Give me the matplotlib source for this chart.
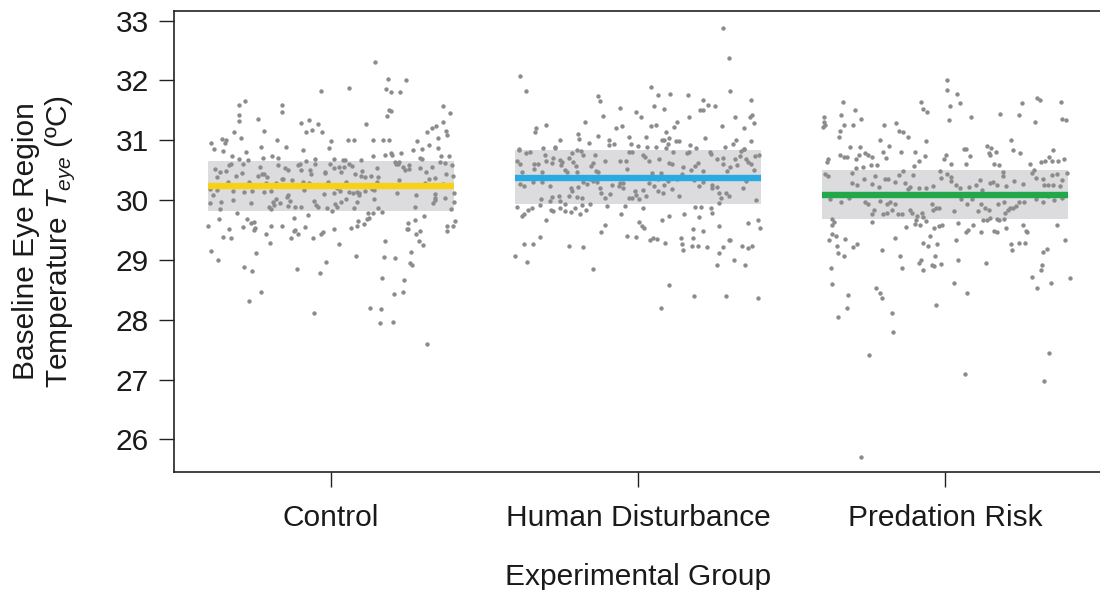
import numpy as np
import matplotlib
matplotlib.use("Agg")
import matplotlib.pyplot as plt

plt.rcParams['font.family'] = ['Liberation Sans', 'DejaVu Sans']
plt.rcParams['mathtext.fontset'] = 'custom'
plt.rcParams['mathtext.rm'] = 'Liberation Sans'
plt.rcParams['mathtext.it'] = 'Liberation Sans:italic'

groups = ["Control", "Human Disturbance", "Predation Risk"]
group_means = [30.24, 30.37, 30.09]
ci_low = [29.82, 29.93, 29.68]
ci_high = [30.66, 30.83, 30.50]
line_colors = ["#F7D117", "#29ABE2", "#22A84B"]
y_ticks = [26, 27, 28, 29, 30, 31, 32, 33]

# (jitter offset, temperature) pairs
control_points = [
    (0.143,32.31),(0.186,32.02),(0.244,32.01),(0.06,31.88),(-0.03,31.82),(0.18,31.85),(0.196,31.80),
    (0.225,31.81),(-0.28,31.66),(-0.30,31.59),(-0.16,31.59),(-0.16,31.48),(-0.30,31.43),(-0.30,31.32),
    (-0.236,31.36),(0.19,31.51),(0.197,31.49),(0.183,31.40),(0.367,31.58),(0.388,31.45),(0.365,31.30),
    (0.344,31.23),(0.114,31.27),(-0.098,31.28),(-0.07,31.34),(-0.04,31.27),(-0.08,31.13),(-0.06,31.17),
    (-0.028,31.13),(-0.216,31.16),(-0.314,31.13),(-0.293,31.04),(-0.355,31.02),(-0.34,31.00),(-0.343,30.96),
    (-0.39,30.95),(-0.38,30.85),(-0.35,30.82),(-0.176,31.00),(-0.226,30.89),(-0.147,30.89),(0.00,30.98),
    (-0.005,30.87),(0.057,31.01),(0.075,31.01),(0.138,31.01),(0.17,31.01),(0.189,31.01),(0.314,31.13),
    (0.33,31.20),(0.35,31.03),(0.376,31.15),(0.38,31.09),(0.28,30.99),(0.32,30.92),(0.297,30.86),
    (0.268,30.83),(0.35,30.87),(-0.09,30.83),(-0.32,30.74),(-0.30,30.69),(-0.275,30.80),(-0.27,30.67),
    (-0.287,30.60),(-0.22,30.70),(-0.19,30.74),(-0.17,30.71),(-0.08,30.66),(-0.05,30.68),(0.01,30.69),
    (0.04,30.67),(0.046,30.67),(0.10,30.67),(0.136,30.73),(0.176,30.76),(0.195,30.78),(0.20,30.75),
    (0.23,30.78),(0.29,30.70),(0.297,30.69),(0.36,30.74),(0.386,30.74),(0.21,30.63),(0.22,30.60),
    (-0.377,30.52),(-0.361,30.47),(-0.341,30.49),(-0.331,30.59),(-0.325,30.61),(-0.290,30.45),(-0.308,30.40),
    (-0.371,30.39),(-0.231,30.55),(-0.236,30.41),(-0.224,30.43),(-0.216,30.44),(-0.206,30.38),(-0.171,30.58),
    (-0.149,30.53),(-0.138,30.51),(-0.154,30.36),(-0.096,30.51),(-0.107,30.58),(-0.100,30.60),(-0.069,30.50),
    (-0.052,30.61),(-0.064,30.43),(-0.019,30.47),(-0.017,30.45),(-0.002,30.60),(0.012,30.53),(0.027,30.56),
    (0.034,30.47),(0.044,30.56),(0.059,30.61),(0.070,30.57),(0.078,30.43),(0.102,30.49),(0.098,30.40),
    (0.110,30.38),(0.131,30.40),(0.150,30.53),(0.154,30.39),(0.221,30.63),(0.213,30.60),(0.234,30.545),
    (0.243,30.51),(0.255,30.59),(0.289,30.53),(0.309,30.47),(0.330,30.56),(0.357,30.64),(0.372,30.62),
    (0.395,30.58),(0.374,30.43),(0.399,30.40),(0.340,30.37),(0.321,30.35),(0.254,30.52),
    (-0.392,30.18),(-0.384,30.08),(-0.371,30.16),(-0.333,30.31),(-0.318,30.15),(-0.281,30.14),(-0.256,30.15),
    (-0.267,30.31),(-0.209,30.29),(-0.218,30.14),(-0.193,30.15),(-0.179,30.28),(-0.158,30.35),(-0.140,30.09),
    (-0.126,30.33),(-0.089,30.30),(-0.088,30.16),(-0.072,30.29),(-0.040,30.24),(-0.021,30.10),(-0.009,30.30),
    (0.022,30.20),(0.011,30.11),(0.031,30.15),(0.051,30.31),(0.061,30.14),(0.071,30.12),(0.093,30.12),
    (0.086,30.14),(0.113,30.15),(0.133,30.18),(0.141,30.16),(0.152,30.30),(0.222,30.34),(0.216,30.11),
    (0.277,30.08),(0.308,30.29),(0.338,30.10),(0.364,30.27),(0.373,30.03),(0.401,30.11),(0.401,29.96),
    (0.340,30.03),
    (-0.394,29.95),(-0.357,29.96),(-0.359,29.85),(-0.317,30.00),(-0.259,29.95),(-0.201,29.89),(-0.194,29.85),
    (-0.184,29.92),(-0.179,30.01),(-0.165,29.95),(-0.138,29.90),(-0.132,29.98),(-0.116,29.88),(-0.096,29.88),
    (-0.056,29.99),(-0.047,29.91),(-0.040,29.89),(-0.012,29.86),(0.005,29.82),(0.013,29.94),(0.020,29.89),
    (0.035,29.97),(0.049,30.01),(0.077,29.87),(0.084,29.97),(0.091,30.08),(0.141,30.02),(0.154,29.87),
    (0.167,29.80),(0.273,29.89),(0.333,29.95),(0.338,30.00),(0.390,29.85),(-0.141,30.05),(-0.187,29.97),
    (-0.400,29.56),(-0.365,29.69),(-0.306,29.78),(-0.285,29.55),(-0.273,29.68),(-0.261,29.61),(-0.251,29.64),
    (-0.246,29.54),(-0.193,29.57),(-0.157,29.57),(-0.119,29.70),(-0.085,29.55),(-0.075,29.75),(0.067,29.54),
    (0.084,29.56),(0.090,29.65),(0.108,29.60),(0.117,29.68),(0.124,29.70),(0.122,29.79),(0.136,29.79),
    (0.251,29.52),(0.252,29.61),(0.273,29.66),(0.303,29.73),(0.379,29.56),(0.397,29.56),(0.405,29.65),
    (-0.330,29.51),(-0.250,29.50),(-0.209,29.44),(-0.121,29.48),(-0.115,29.50),(-0.107,29.43),(-0.352,29.39),
    (-0.326,29.36),(-0.198,29.29),(-0.130,29.36),(-0.059,29.36),(-0.033,29.44),(-0.024,29.46),(0.011,29.51),
    (0.028,29.27),(0.178,29.32),(0.247,29.51),(0.289,29.48),(0.276,29.43),(0.286,29.32),(0.301,29.25),
    (0.380,29.49),(-0.389,29.15),(-0.367,29.00),(-0.243,29.12),(-0.283,28.88),(-0.257,28.82),(-0.228,28.47),
    (-0.267,28.31),(-0.109,28.84),(-0.035,28.78),(-0.015,28.97),(0.083,29.07),(0.172,29.05),(0.210,29.03),
    (0.262,29.13),(0.257,28.94),(0.265,28.91),(0.167,28.70),(0.239,28.66),(0.235,28.47),(0.207,28.43),
    (0.127,28.20),(0.163,28.18),(0.159,27.95),(0.204,27.97),(-0.054,28.11),(0.312,27.60),
]

human_points = [
    (0.277,32.88),(0.295,32.37),(-0.383,32.08),(-0.363,31.83),(0.301,31.82),(0.043,31.89),(0.066,31.76),
    (0.105,31.78),(0.164,31.75),(-0.131,31.74),(-0.124,31.65),(0.052,31.58),(0.085,31.53),(0.213,31.67),
    (0.229,31.59),(0.252,31.57),(0.202,31.51),(0.210,31.51),(0.367,31.68),(-0.060,31.54),(-0.008,31.48),
    (0.009,31.39),(-0.113,31.40),(-0.174,31.30),(0.167,31.38),(0.317,31.38),(0.365,31.39),(0.372,31.43),
    (0.379,31.28),(-0.331,31.21),(-0.336,31.14),(-0.301,31.26),(-0.073,31.20),(-0.051,31.24),(0.041,31.23),
    (0.057,31.25),(0.126,31.30),(0.116,31.22),(0.091,31.13),(0.272,31.23),(0.346,31.20),(-0.195,31.11),
    (-0.193,31.02),(-0.253,31.01),(-0.160,30.96),(-0.129,31.07),(-0.094,31.01),(-0.096,30.92),(-0.079,30.93),
    (-0.030,31.06),(-0.024,30.94),(0.001,30.91),(0.026,31.05),(0.030,30.89),(0.078,31.01),(0.084,31.01),
    (0.102,31.03),(0.098,30.94),(0.125,30.99),(0.132,30.99),(0.169,30.92),(0.218,31.03),(0.320,31.01),
    (0.310,30.93),(0.369,30.99),(-0.308,30.87),(-0.270,30.89),(-0.388,30.85),(0.282,30.89),(0.345,30.86),
    (0.060,30.88),
    (-0.387,30.83),(-0.363,30.79),(-0.353,30.81),(-0.395,30.65),(-0.384,30.60),(-0.379,30.47),(-0.337,30.61),
    (-0.338,30.52),(-0.326,30.60),(-0.302,30.76),(-0.300,30.65),(-0.314,30.47),(-0.281,30.62),(-0.275,30.71),
    (-0.269,30.87),(-0.253,30.67),(-0.247,30.63),(-0.239,30.50),(-0.232,30.47),(-0.249,30.59),(-0.224,30.71),
    (-0.216,30.79),(-0.212,30.63),(-0.201,30.57),(-0.200,30.47),(-0.197,30.83),(-0.184,30.82),(-0.179,30.76),
    (-0.146,30.62),(-0.140,30.75),(-0.153,30.57),(-0.138,30.48),(-0.130,30.47),(-0.108,30.65),(-0.057,30.65),
    (-0.040,30.65),(-0.037,30.52),(-0.028,30.80),(-0.021,30.80),(0.015,30.76),(0.024,30.72),(0.037,30.66),
    (0.045,30.45),(0.075,30.46),(0.100,30.62),(0.110,30.61),(0.114,30.80),(0.142,30.44),(0.148,30.56),
    (0.158,30.78),(0.165,30.81),(0.171,30.50),(0.185,30.57),(0.194,30.62),(0.211,30.48),(0.234,30.80),
    (0.239,30.77),(0.258,30.69),(0.277,30.71),(0.277,30.60),(0.290,30.49),(0.301,30.56),(0.317,30.69),
    (0.331,30.74),(0.334,30.82),(0.345,30.85),(0.353,30.68),(0.359,30.63),(0.368,30.61),(0.381,30.73),
    (0.393,30.75),(0.378,30.51),(0.323,30.58),(0.188,30.87),(0.090,30.87),(0.067,30.69),
    (-0.372,30.23),(-0.385,30.27),(-0.341,30.31),(-0.313,30.31),(-0.287,30.23),(-0.315,30.02),(-0.288,29.99),
    (-0.280,30.05),(-0.258,30.07),(-0.254,29.98),(-0.238,29.94),(-0.219,30.20),(-0.216,30.15),(-0.225,30.06),
    (-0.200,30.045),(-0.181,30.04),(-0.194,30.22),(-0.179,30.30),(-0.167,30.27),(-0.147,30.32),(-0.134,30.30),
    (-0.121,30.12),(-0.124,30.21),(-0.108,30.04),(-0.091,30.10),(-0.084,30.25),(-0.063,30.23),(-0.059,30.28),
    (-0.050,30.21),(-0.048,30.29),(-0.029,30.04),(-0.021,30.04),(-0.009,30.145),(-0.005,30.08),(0.003,30.02),
    (0.017,30.16),(0.025,30.07),(0.051,30.23),(0.064,30.15),(0.080,30.11),(0.084,30.25),(0.112,30.18),
    (0.134,30.07),(0.181,30.33),(0.197,30.24),(0.242,30.26),(0.256,30.22),(0.240,30.20),(0.265,30.12),
    (0.287,30.11),(0.296,30.07),(0.269,30.04),(0.341,30.20),(0.353,30.32),(0.385,30.00),(0.210,30.30),
    (0.098,30.32),(0.126,30.35),(0.065,30.35),(0.035,30.29),(-0.156,30.35),
    (-0.394,29.88),(-0.377,29.73),(-0.371,29.76),(-0.358,29.84),(-0.346,29.87),(-0.320,29.91),(-0.300,29.66),
    (-0.319,29.39),(-0.284,29.83),(-0.276,29.82),(-0.253,29.87),(-0.239,29.82),(-0.219,29.80),(-0.205,29.87),
    (-0.188,29.76),(-0.168,29.83),(-0.155,29.94),(-0.182,29.92),(-0.122,29.47),(-0.108,29.59),(-0.101,29.90),
    (-0.055,29.76),(-0.042,29.90),(-0.037,29.40),(-0.005,29.39),(0.003,29.63),(0.012,29.57),(0.021,29.53),
    (0.017,29.86),(0.050,29.36),(0.063,29.35),(0.079,29.67),(0.100,29.74),(0.139,29.37),(0.149,29.77),
    (0.180,29.51),(0.186,29.89),(0.204,29.89),(0.199,29.72),(0.242,29.79),(0.238,29.87),(0.263,29.95),
    (0.265,29.57),(0.210,29.49),(0.299,29.34),(0.358,29.61),(0.391,29.67),(0.396,29.53),
    (-0.372,29.26),(-0.342,29.27),(-0.400,29.06),(-0.361,28.97),(-0.224,29.24),(-0.179,29.21),(-0.146,28.85),
    (0.039,29.34),(0.087,29.29),(0.143,29.27),(0.147,29.16),(0.176,29.23),(0.194,29.23),(0.225,29.21),
    (0.179,29.36),(0.297,29.34),(0.263,29.11),(0.276,29.22),(0.256,28.92),(0.314,28.99),(0.337,29.23),
    (0.357,29.20),(0.371,29.23),(0.349,28.92),(0.101,28.58),(0.183,28.40),(0.288,28.39),(0.392,28.37),
    (0.076,28.20),
]

predation_points = [
    (0.004,32.00),(0.005,31.84),(0.037,31.77),(0.049,31.63),(0.014,31.58),(0.011,31.34),(0.085,31.38),
    (-0.078,31.64),(-0.071,31.53),(-0.060,31.48),(-0.334,31.64),(-0.340,31.43),(-0.295,31.51),(-0.273,31.36),
    (-0.331,31.26),(-0.300,31.25),(-0.342,31.15),(-0.347,31.05),(-0.394,31.39),(-0.396,31.30),(-0.397,31.22),
    (-0.392,31.25),(-0.198,31.26),(-0.160,31.29),(-0.152,31.15),(-0.138,31.13),(-0.121,31.05),(-0.211,31.00),
    (-0.184,30.91),(-0.202,30.80),(-0.193,30.70),(-0.064,30.98),(-0.097,30.81),(-0.066,30.74),(-0.087,30.66),
    (-0.143,30.80),(-0.309,30.89),(-0.279,30.89),(-0.343,30.75),(-0.331,30.72),(-0.321,30.72),(-0.280,30.75),
    (-0.289,30.68),(-0.260,30.79),(-0.252,30.76),(-0.238,30.72),(-0.383,30.68),(-0.386,30.64),(0.178,31.44),
    (0.214,31.00),(0.219,30.84),(0.242,30.79),(0.249,31.63),(0.239,31.42),(0.299,31.71),(0.307,31.68),
    (0.376,31.64),(0.381,31.35),(0.393,31.34),(0.291,31.30),(0.061,30.86),(0.066,30.86),(0.136,30.90),
    (0.149,30.87),(0.142,30.78),(0.164,30.81),(0.146,30.75),(0.081,30.73),(0.001,30.75),(-0.003,30.68),
    (0.350,30.83),(0.339,30.72),(0.348,30.65),(0.366,30.66),(0.387,30.68),(0.310,30.64),(0.324,30.65),
    (0.276,30.61),(0.158,30.61),(0.176,30.59),(0.066,30.60),(0.020,30.60),(-0.103,30.57),(-0.291,30.54),
    (-0.268,30.56),(-0.242,30.58),(-0.222,30.58),
    (-0.390,30.43),(-0.383,30.41),(-0.304,30.45),(-0.305,30.29),(-0.288,30.26),(-0.263,30.36),(-0.240,30.27),
    (-0.229,30.41),(-0.215,30.22),(-0.195,30.36),(-0.186,30.35),(-0.163,30.31),(-0.150,30.42),(-0.136,30.49),
    (-0.130,30.29),(-0.104,30.42),(-0.114,30.22),(-0.122,30.18),(-0.087,30.21),(-0.062,30.21),(-0.039,30.23),
    (-0.018,30.49),(-0.015,30.37),(0.006,30.43),(0.018,30.39),(0.035,30.25),(0.048,30.21),(0.078,30.22),
    (0.100,30.25),(0.112,30.33),(0.119,30.17),(0.144,30.28),(0.156,30.30),(0.168,30.26),(0.189,30.41),
    (0.199,30.23),(0.225,30.32),(0.254,30.27),(0.282,30.46),(0.290,30.50),(0.295,30.37),(0.320,30.25),
    (0.318,30.36),(0.346,30.42),(0.363,30.43),(0.333,30.26),(0.352,30.25),(0.373,30.23),(0.379,30.33),
    (0.396,30.46),(0.187,30.47),(0.018,30.32),
    (-0.374,30.01),(-0.338,29.97),(-0.313,30.03),(-0.261,29.97),(-0.250,29.94),(-0.231,29.84),(-0.239,29.77),
    (-0.212,29.99),(-0.203,29.77),(-0.191,29.79),(-0.190,29.93),(-0.181,29.97),(-0.172,29.84),(-0.164,29.94),
    (-0.154,29.77),(-0.140,29.77),(-0.115,29.84),(-0.107,29.79),(-0.091,29.74),(-0.076,29.79),(-0.071,29.72),
    (-0.043,29.93),(-0.041,29.83),(-0.029,29.86),(-0.021,29.86),(0.028,29.81),(0.050,30.01),(0.072,29.93),
    (0.087,30.01),(0.106,29.81),(0.116,29.93),(0.130,29.86),(0.141,29.83),(0.170,29.94),(0.190,29.96),
    (0.194,29.78),(0.204,29.83),(0.212,29.87),(0.220,29.87),(0.229,29.90),(0.241,29.97),(0.256,29.96),
    (0.294,30.01),(0.319,29.96),(0.334,30.06),(0.354,30.00),(0.379,30.04),(0.192,29.68),(0.168,29.68),
    (0.146,29.70),(0.124,29.67),
    (-0.368,29.68),(-0.363,29.63),(-0.369,29.58),(-0.368,29.43),(-0.356,29.40),(-0.377,29.34),(-0.353,29.24),
    (-0.349,29.11),(-0.328,29.07),(-0.327,29.35),(-0.299,29.21),(-0.286,29.26),(-0.237,29.63),(-0.205,29.17),
    (-0.163,29.37),(-0.148,29.07),(-0.128,29.55),(-0.094,29.66),(-0.097,29.60),(-0.081,29.58),(-0.063,29.65),
    (-0.072,29.28),(-0.051,29.40),(-0.055,29.24),(-0.037,29.53),(-0.026,29.27),(-0.021,29.57),(-0.010,29.58),
    (0.035,29.33),(0.041,29.61),(0.066,29.47),(0.073,29.50),(0.089,29.59),(0.115,29.47),(0.135,29.66),
    (0.157,29.49),(0.167,29.47),(0.174,29.67),(0.199,29.53),(0.214,29.26),(0.216,29.17),(0.241,29.28),
    (0.258,29.28),(0.254,29.58),(0.263,29.49),(0.267,29.46),(0.318,29.14),(0.330,29.19),(0.365,29.58),
    (0.390,29.34),(-0.033,29.07),
    (-0.372,28.87),(-0.370,28.60),(-0.316,28.41),(-0.321,28.19),(-0.349,28.05),(-0.225,28.53),(-0.213,28.44),
    (-0.205,28.36),(-0.174,28.12),(-0.169,27.80),(-0.249,27.41),(-0.274,25.71),(-0.141,28.87),(-0.084,28.95),
    (-0.079,28.99),(-0.071,28.83),(-0.042,28.92),(-0.037,28.90),(-0.013,28.93),(0.043,28.99),(0.028,28.61),
    (0.072,28.44),(-0.029,28.25),(0.063,27.10),(0.134,28.94),(0.314,28.92),(0.312,28.83),(0.282,28.71),
    (0.298,28.53),(0.343,28.62),(0.407,28.69),(0.337,27.45),(0.322,26.98),
]

all_points = [control_points, human_points, predation_points]

fig = plt.figure(figsize=(11, 5.9), dpi=100)
ax = fig.add_axes([174 / 1100, 1 - 471.7 / 590, 928 / 1100, 460.7 / 590])

half_width = 0.40
for i, (pts, m, lo, hi, col) in enumerate(zip(all_points, group_means, ci_low, ci_high, line_colors)):
    xc = i + 1
    ax.fill_between([xc - half_width, xc + half_width], [lo, lo], [hi, hi],
                    color="#DCDCDE", linewidth=0, zorder=1)
    arr = np.array(pts)
    ax.scatter(xc + arr[:, 0], arr[:, 1], s=10, color="#8C8C8C", linewidths=0, zorder=2)
    ax.plot([xc - half_width, xc + half_width], [m, m], color=col, linewidth=4.6,
            solid_capstyle="butt", zorder=3)

ax.set_xlim(0.49, 3.51)
ax.set_ylim(25.46, 33.16)
ax.set_xticks([1, 2, 3])
ax.set_xticklabels(groups)
ax.set_yticks(y_ticks)
ax.set_yticklabels([str(t) for t in y_ticks])

FS = 21.5
ax.tick_params(axis="both", direction="out", length=11, width=1.0, labelsize=FS,
               color="#222222", labelcolor="#1a1a1a")
ax.tick_params(axis="y", pad=7)
ax.tick_params(axis="x", pad=12)
for sp in ax.spines.values():
    sp.set_linewidth(1.2)
    sp.set_color("#222222")

ax.set_xlabel("Experimental Group", fontsize=FS, color="#1a1a1a")
ax.xaxis.set_label_coords(0.5, -0.228)
ax.xaxis.label.set_va("center")
ax.set_ylabel("Baseline Eye Region\nTemperature $\\mathit{T}_{\\mathit{eye}}$ (ºC)",
              fontsize=FS, color="#1a1a1a", linespacing=1.15)
ax.yaxis.set_label_coords(-0.103, 0.5)

fig.savefig("out.png", dpi=100)
